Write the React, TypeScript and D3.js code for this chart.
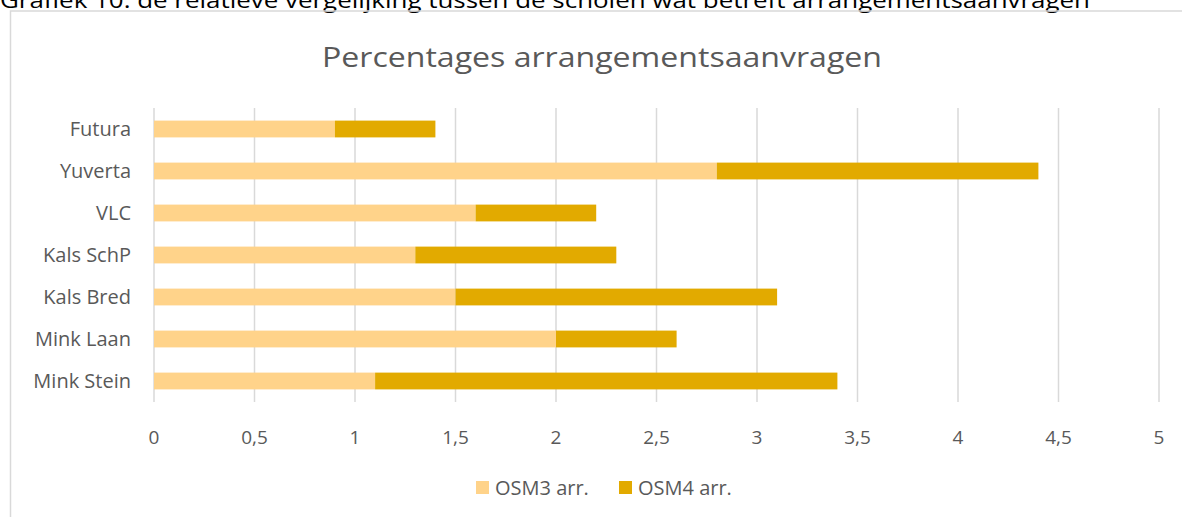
import React, { useEffect, useRef } from "react";
import * as d3 from "d3";

const schools = ["Futura", "Yuverta", "VLC", "Kals SchP", "Kals Bred", "Mink Laan", "Mink Stein"];
const osm3 = [0.9, 2.8, 1.6, 1.3, 1.5, 2.0, 1.1];
const osm4 = [0.5, 1.6, 0.6, 1.0, 1.6, 0.6, 2.3];
const seriesNames = ["OSM3 arr.", "OSM4 arr."];
const seriesColors = ["#FFD38A", "#E2AA00"];
const xTicks = [0, 0.5, 1, 1.5, 2, 2.5, 3, 3.5, 4, 4.5, 5];

const App = () => {
  const ref = useRef<SVGSVGElement | null>(null);

  useEffect(() => {
    const width = 1182;
    const height = 517;
    const font = "'Open Sans', sans-serif";
    const svg = d3.select(ref.current);
    svg.selectAll("*").remove();

    svg.append("rect").attr("width", width).attr("height", height).attr("fill", "#fff");

    // caption above the chart box (cut off at the top)
    svg
      .append("text")
      .attr("x", 0)
      .attr("y", 8)
      .attr("font-family", font)
      .attr("font-size", 21)
      .attr("fill", "#000")
      .attr("textLength", 1090)
      .attr("lengthAdjust", "spacingAndGlyphs")
      .text("Grafiek 10: de relatieve vergelijking tussen de scholen wat betreft arrangementsaanvragen");

    // chart box
    svg
      .append("path")
      .attr("d", `M10.5,${height + 2} V11 H${width + 2}`)
      .attr("fill", "none")
      .attr("stroke", "#D9D9D9")
      .attr("stroke-width", 1.5);

    svg
      .append("text")
      .attr("x", 602)
      .attr("y", 67)
      .attr("text-anchor", "middle")
      .attr("font-family", font)
      .attr("font-size", 28)
      .attr("fill", "#595959")
      .attr("textLength", 560)
      .attr("lengthAdjust", "spacingAndGlyphs")
      .text("Percentages arrangementsaanvragen");

    const x = d3.scaleLinear().domain([0, 5]).range([154, 1159]);
    const y = d3.scaleBand().domain(schools).range([108, 402]).paddingInner(0.6).paddingOuter(0.3);

    const g = svg.append("g");

    g.selectAll("line.grid")
      .data(xTicks)
      .enter()
      .append("line")
      .attr("class", "grid")
      .attr("x1", (d) => x(d))
      .attr("x2", (d) => x(d))
      .attr("y1", 108)
      .attr("y2", 402)
      .attr("stroke", "#D9D9D9")
      .attr("stroke-width", 1.5);

    const rows = schools.map((s, i) => ({ s, a: osm3[i], b: osm4[i] }));
    const stack = d3.stack<any>().keys(["a", "b"])(rows);

    stack.forEach((layer, k) => {
      g.selectAll(`rect.s${k}`)
        .data(layer)
        .enter()
        .append("rect")
        .attr("class", `s${k}`)
        .attr("x", (d) => x(d[0]))
        .attr("width", (d) => x(d[1]) - x(d[0]))
        .attr("y", (d) => y(d.data.s)!)
        .attr("height", y.bandwidth())
        .attr("fill", seriesColors[k]);
    });

    g.selectAll("text.cat")
      .data(schools)
      .enter()
      .append("text")
      .attr("class", "cat")
      .attr("x", 131)
      .attr("y", (d) => y(d)! + y.bandwidth() / 2)
      .attr("dy", "0.35em")
      .attr("text-anchor", "end")
      .attr("font-family", font)
      .attr("font-size", 20)
      .attr("fill", "#595959")
      .text((d) => d);

    g.selectAll("text.tick")
      .data(xTicks)
      .enter()
      .append("text")
      .attr("class", "tick")
      .attr("x", (d) => x(d))
      .attr("y", 437)
      .attr("dy", "0.35em")
      .attr("text-anchor", "middle")
      .attr("font-family", font)
      .attr("font-size", 19)
      .attr("fill", "#595959")
      .text((d) => String(d).replace(".", ","));

    // legend
    const legendX = [476, 619];
    seriesNames.forEach((name, i) => {
      svg
        .append("rect")
        .attr("x", legendX[i])
        .attr("y", 481)
        .attr("width", 13)
        .attr("height", 13)
        .attr("fill", seriesColors[i]);
      svg
        .append("text")
        .attr("x", legendX[i] + 19)
        .attr("y", 488)
        .attr("dy", "0.35em")
        .attr("font-family", font)
        .attr("font-size", 20)
        .attr("fill", "#595959")
        .text(name);
    });
  }, []);

  return (
    <svg
      ref={ref}
      width={1182}
      height={517}
      style={{ position: "absolute", left: 0, top: 0, display: "block" }}
    />
  );
};

export default App;
